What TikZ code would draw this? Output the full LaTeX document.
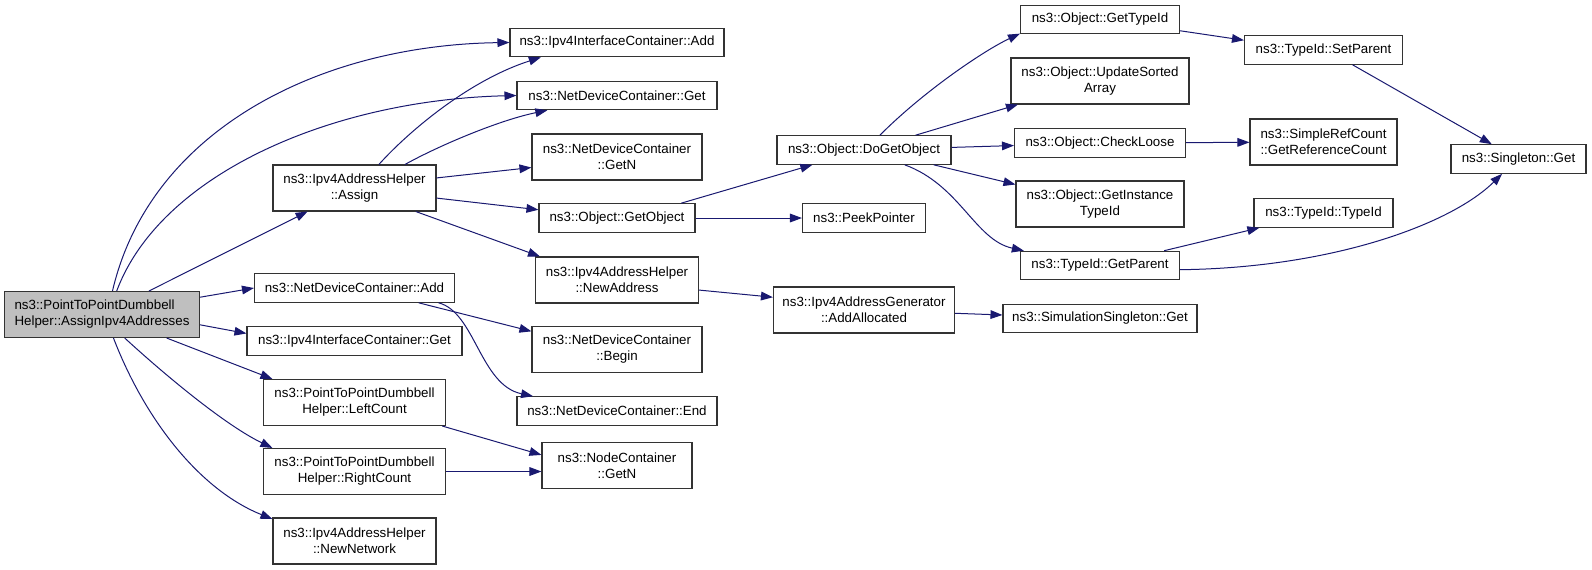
\documentclass[tikz,border=0pt]{standalone}
\usepackage{fontspec}
\setmainfont{Liberation Sans}
\usetikzlibrary{arrows.meta}
\definecolor{midnight}{HTML}{191970}

\begin{document}
\begin{tikzpicture}[x=0.75pt,y=-0.75pt]

\tikzset{%
    fn/.style={draw=black!80,line width=0.8pt,fill=white,align=center,font=\fontsize{10}{12}\selectfont,inner xsep=3pt,inner ysep=1pt,minimum height=21.4pt},
    fntwo/.style={fn,minimum height=34.5pt},
    wd/.style={minimum width=#1*0.75pt},
    call/.style={-{Triangle[length=9pt,width=6.5pt]},midnight,line width=0.75pt},
}

\useasboundingbox (0,0) rectangle (1592,569);

% column centres
\def\colA{102}
\def\colB{354.5}
\def\colC{617}
\def\colD{864}
\def\colE{1100}
\def\colF{1323.5}
\def\colG{1518.5}

% caller
\node [fntwo, wd=195, fill=black!25, align=left] (root) at (\colA, 314.5) {ns3::PointToPointDumbbell\\Helper::AssignIpv4Addresses};

% first level
\node [fntwo, wd=163] (assign) at (\colB, 188) {ns3::Ipv4AddressHelper\\::Assign};
\node [fn, wd=200] (ndAdd) at (\colB, 288) {ns3::NetDeviceContainer::Add};
\node [fn, wd=215] (ifGet) at (\colB, 341) {ns3::Ipv4InterfaceContainer::Get};
\node [fntwo, wd=182] (leftCount) at (\colB, 402.5) {ns3::PointToPointDumbbell\\Helper::LeftCount};
\node [fntwo, wd=182] (rightCount) at (\colB, 471.5) {ns3::PointToPointDumbbell\\Helper::RightCount};
\node [fntwo, wd=163] (newNetwork) at (\colB, 541) {ns3::Ipv4AddressHelper\\::NewNetwork};

% second level
\node [fn, wd=214] (ifAdd) at (\colC, 42.5) {ns3::Ipv4InterfaceContainer::Add};
\node [fn, wd=200] (ndGet) at (\colC, 95.5) {ns3::NetDeviceContainer::Get};
\node [fntwo, wd=170] (ndGetN) at (\colC, 157) {ns3::NetDeviceContainer\\::GetN};
\node [fn, wd=156] (getObject) at (\colC, 218) {ns3::Object::GetObject};
\node [fntwo, wd=163] (newAddress) at (\colC, 280) {ns3::Ipv4AddressHelper\\::NewAddress};
\node [fntwo, wd=170] (ndBegin) at (\colC, 349.5) {ns3::NetDeviceContainer\\::Begin};
\node [fn, wd=200] (ndEnd) at (\colC, 411) {ns3::NetDeviceContainer::End};
\node [fntwo, wd=150] (ncGetN) at (\colC, 465.5) {ns3::NodeContainer\\::GetN};

% third level
\node [fn, wd=174] (doGetObject) at (\colD, 150) {ns3::Object::DoGetObject};
\node [fn, wd=123] (peekPointer) at (\colD, 218) {ns3::PeekPointer};
\node [fntwo, wd=181] (addAllocated) at (\colD, 310) {ns3::Ipv4AddressGenerator\\::AddAllocated};

% fourth level
\node [fn, wd=159] (getTypeId) at (\colE, 19.5) {ns3::Object::GetTypeId};
\node [fntwo, wd=178] (updateSorted) at (\colE, 81) {ns3::Object::UpdateSorted\\Array};
\node [fn, wd=171] (checkLoose) at (\colE, 143) {ns3::Object::CheckLoose};
\node [fntwo, wd=168] (getInstance) at (\colE, 204) {ns3::Object::GetInstance\\TypeId};
\node [fn, wd=159] (getParent) at (\colE, 265.5) {ns3::TypeId::GetParent};
\node [fn, wd=194] (simSingleton) at (\colE, 318.5) {ns3::SimulationSingleton::Get};

% fifth level
\node [fn, wd=158] (setParent) at (\colF, 50) {ns3::TypeId::SetParent};
\node [fntwo, wd=147] (getRefCount) at (\colF, 142) {ns3::SimpleRefCount\\::GetReferenceCount};
\node [fn, wd=139] (typeIdCtor) at (\colF, 213) {ns3::TypeId::TypeId};
\node [fn, wd=135] (singletonGet) at (\colG, 159) {ns3::Singleton::Get};

% calls of AssignIpv4Addresses
\draw [call] (root.66) .. controls (150,130) and (320,45) .. (ifAdd.west);
\draw [call] (root.58) .. controls (160,175) and (330,100) .. (ndGet.west);
\draw [call] (root) -- (assign);
\draw [call] (root.10) -- (ndAdd.west);
\draw [call] (root.-6) -- (ifGet.176);
\draw [call] (root.-20) -- (leftCount.164);
\draw [call] (root.-46) .. controls (165,375) and (225,425) .. (rightCount.164);
\draw [call] (root.-64) .. controls (145,420) and (200,490) .. (newNetwork.165);

% Assign
\draw [call] (assign.44) .. controls (410,130) and (470,80) .. (ifAdd.191);
\draw [call] (assign.25) .. controls (440,145) and (500,120) .. (ndGet.192);
\draw [call] (assign.7) -- (ndGetN.187);
\draw [call] (assign.-7) -- (getObject.174);
\draw [call] (assign.-21) -- (newAddress.163);

% NetDeviceContainer::Add and the counts
\draw [call] (ndAdd.-13) -- (ndBegin.168);
\draw [call] (ndAdd.-10) .. controls (475,312) and (480,385) .. (ndEnd.170);
\draw [call] (leftCount.-15) -- (ncGetN.172);
\draw [call] (rightCount.east) -- (rightCount.east -| ncGetN.west);

% GetObject and NewAddress
\draw [call] (getObject.13) -- (doGetObject.196);
\draw [call] (getObject) -- (peekPointer);
\draw [call] (newAddress.-7) -- (addAllocated.172);
\draw [call] (addAllocated) -- (simSingleton);

% DoGetObject
\draw [call] (doGetObject.43) .. controls (925,90) and (985,50) .. (getTypeId.190);
\draw [call] (doGetObject.16) -- (updateSorted.196);
\draw [call] (doGetObject) -- (checkLoose);
\draw [call] (doGetObject.-12) -- (getInstance.167);
\draw [call] (doGetObject.-20) .. controls (960,185) and (975,240) .. (getParent.169);

% TypeId and friends
\draw [call] (getTypeId.-8) -- (setParent.173);
\draw [call] (checkLoose) -- (getRefCount);
\draw [call] (getParent.13) -- (typeIdCtor.193);
\draw [call] (getParent.-3) .. controls (1330,268) and (1450,225) .. (singletonGet.222);
\draw [call] (setParent.-27) -- (singletonGet.151);

\end{tikzpicture}
\end{document}
